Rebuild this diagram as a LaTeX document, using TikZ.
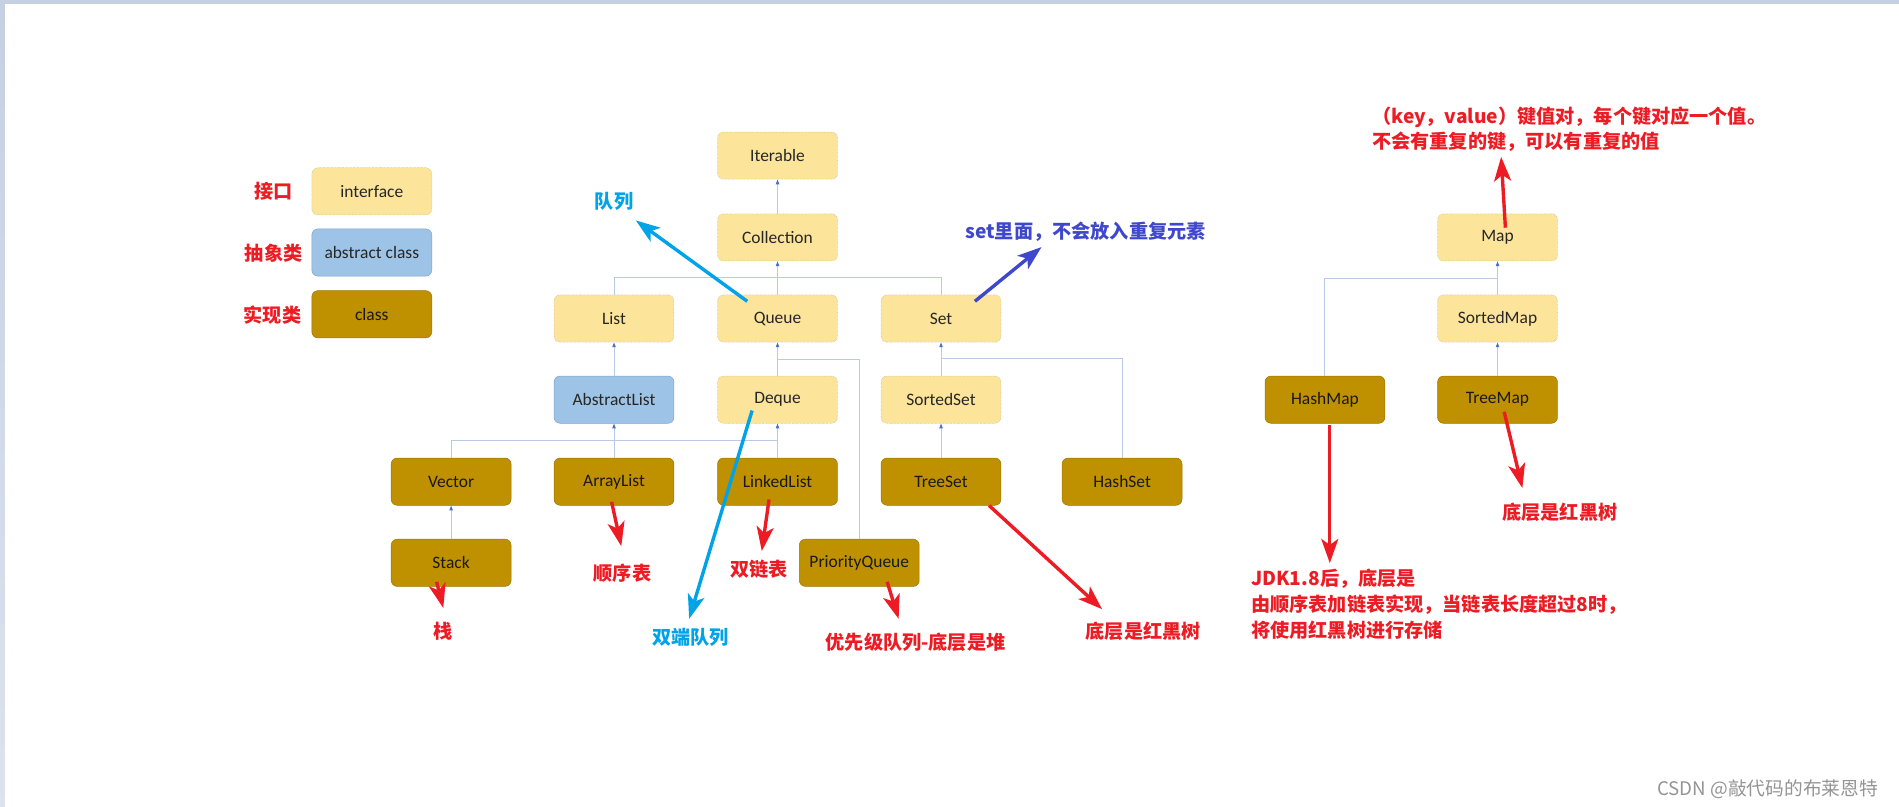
\documentclass[tikz,border=0pt]{standalone}
\usepackage{fontspec}
\setmainfont{Carlito}
\newfontfamily\cjk{Noto Sans CJK SC}
\usetikzlibrary{arrows.meta, calc}

\definecolor{ifacefill}{RGB}{253,228,155}
\definecolor{ifacedraw}{RGB}{196,186,150}
\definecolor{absfill}{RGB}{157,195,230}
\definecolor{absdraw}{RGB}{128,163,205}
\definecolor{clsfill}{RGB}{191,144,0}
\definecolor{clsdraw}{RGB}{158,118,0}
\definecolor{treeline}{RGB}{185,203,228}
\definecolor{treehead}{RGB}{68,114,196}
\definecolor{notered}{RGB}{237,28,36}
\definecolor{notecyan}{RGB}{0,162,232}
\definecolor{noteblue}{RGB}{63,72,204}
\definecolor{framec}{RGB}{197,208,226}

\begin{document}
\begin{tikzpicture}[x=0.5mm, y=-0.5mm,
    box/.style={rectangle, rounded corners=2.5mm, minimum width=49.5mm, minimum height=19.5mm, inner sep=0pt, font=\fontsize{20.5}{24}\selectfont, text=black!85},
    iface/.style={box, fill=ifacefill, draw=ifacedraw, densely dotted, line width=0.6pt},
    abstr/.style={box, fill=absfill, draw=absdraw, line width=0.6pt},
    impl/.style={box, fill=clsfill, draw=clsdraw, line width=0.6pt, text=black!90},
    tree/.style={draw=treeline, line width=1.1pt},
    isa/.style={-{Triangle[length=2mm, width=1.4mm, color=treehead]}},
    note/.style={font=\cjk\bfseries\fontsize{22.5}{30}\selectfont, inner sep=0pt},
    pointer/.style={line width=1.4mm, -{Stealth[length=10mm, width=7mm, inset=2.5mm]}}
]
    \useasboundingbox (0,0) rectangle (1568,666.3);

    % --- ramka ---
    \fill[framec] (0,0) rectangle (1568,3.3);
    \shade[top color=framec, bottom color=framec!60!white] (0,0) rectangle (4,666.3);

    % --- legenda ---
    \node[iface] (lgi) at (307,158) {interface};
    \node[abstr] (lga) at (307,208.5) {abstract class};
    \node[impl] (lgc) at (307,259.5) {class};
    \node[note, text=notered] (lgit) at (226,158) {接口};
    \node[note, text=notered] (lgat) at (226,209) {抽象类};
    \node[note, text=notered] (lgct) at (225,260) {实现类};

    % --- Collection ---
    \node[iface] (iter) at (642,128.5) {Iterable};
    \node[iface] (coll) at (642,196) {Collection};
    \node[iface] (list) at (507,263) {List};
    \node[iface] (queue) at (642,263) {Queue};
    \node[iface] (set) at (777,263) {Set};
    \node[abstr] (abst) at (507,330) {AbstractList};
    \node[iface] (deque) at (642,330) {Deque};
    \node[iface] (sset) at (777,330) {SortedSet};
    \node[impl] (vector) at (372.5,397.7) {Vector};
    \node[impl] (array) at (507,397.7) {ArrayList};
    \node[impl] (linked) at (642,397.7) {LinkedList};
    \node[impl] (treeset) at (777,397.7) {TreeSet};
    \node[impl] (hset) at (926.5,397.7) {HashSet};
    \node[impl] (stack) at (372.5,464.7) {Stack};
    \node[impl] (prio) at (709.5,464.7) {PriorityQueue};

    % --- Map ---
    \node[iface] (map) at (1236.5,196) {Map};
    \node[iface] (smap) at (1236.5,263) {SortedMap};
    \node[impl] (hmap) at (1094,330) {HashMap};
    \node[impl] (tmap) at (1236.5,330) {TreeMap};

    % --- dziedziczenie ---
    \draw[tree, isa] (coll.north) -- (iter.south);
    \draw[tree] (list.north) |- ($(coll.south)!.5!(queue.north)$) -| (set.north);
    \draw[tree, isa] (queue.north) -- (coll.south);
    \draw[tree, isa] (abst.north) -- (list.south);
    \draw[tree, isa] (deque.north) -- (queue.south);
    \draw[tree] (prio.north) |- ($(queue.south)+(0,14)$);
    \draw[tree, isa] (sset.north) -- (set.south);
    \draw[tree] (hset.north) |- ($(set.south)+(0,13)$);
    \draw[tree] (vector.north) |- ($(abst.south)!.5!(array.north)$) -| (linked.north);
    \draw[tree, isa] (array.north) -- (abst.south);
    \draw[tree, isa] (linked.north) -- (deque.south);
    \draw[tree, isa] (treeset.north) -- (sset.south);
    \draw[tree, isa] (stack.north) -- (vector.south);
    \draw[tree] (hmap.north) |- ($(map.south)+(0,14.5)$);
    \draw[tree, isa] (smap.north) -- (map.south);
    \draw[tree, isa] (tmap.north) -- (smap.south);

    % --- opisy ---
    \node[note, text=notecyan] (tqueue) at (507,166) {队列};
    \node[note, text=noteblue, anchor=west] (tsetnote) at (797,191) {set里面，不会放入重复元素};
    \node[note, text=notecyan] (tdeque) at (570,526) {双端队列};
    \node[note, text=notered] (tarray) at (514,473) {顺序表};
    \node[note, text=notered] (tlinked) at (627,470) {双链表};
    \node[note, text=notered] (tstack) at (366,521) {栈};
    \node[note, text=notered] (tprio) at (756,530) {优先级队列-底层是堆};
    \node[note, text=notered] (ttreeset) at (944,521) {底层是红黑树};
    \node[note, text=notered, anchor=west, align=left] (tmapn) at (1133,106.5)
        {（key，value）键值对，每个键对应一个值。\\不会有重复的键，可以有重复的值};
    \node[note, text=notered, anchor=north west, align=left] (thmap) at (1033,470)
        {JDK1.8后，底层是\\由顺序表加链表实现，当链表长度超过8时，\\将使用红黑树进行存储};
    \node[note, text=notered] (ttmap) at (1288,423) {底层是红黑树};
    \node[font=\cjk\fontsize{22}{26}\selectfont, text=black!42, inner sep=0pt] (wm) at (1459.5,652) {CSDN @敲代码的布莱恩特};

    % --- strzalki ---
    \coordinate (qtip) at (525,182);
    \coordinate (stip) at (860,204);
    \coordinate (dtip) at (569,511);
    \coordinate (atip) at (513,451);
    \coordinate (ltip) at (629,455);
    \coordinate (sttip) at (366,502);
    \coordinate (ptip) at (742,511);
    \coordinate (ttip) at (910,503);
    \coordinate (mtip) at (1239.5,129.5);
    \coordinate (htip) at (1098,465);
    \coordinate (tmtip) at (1257,403);

    \draw[pointer, notecyan] ([shift={(-25,5.5)}]queue.north) -- (qtip);
    \draw[pointer, noteblue] ([shift={(28,5.5)}]set.north) -- (stip);
    \draw[pointer, notecyan] ([shift={(-21,9)}]deque.center) -- (dtip);
    \draw[pointer, notered] ([shift={(-2,-3)}]array.south) -- (atip);
    \draw[pointer, notered] ([shift={(-7,-5)}]linked.south) -- (ltip);
    \draw[pointer, notered] ([shift={(-12,-4)}]stack.south) -- (sttip);
    \draw[pointer, notered] ([shift={(23,-4)}]prio.south) -- (ptip);
    \draw[pointer, notered] ([shift={(-10,0)}]treeset.south east) -- (ttip);
    \draw[pointer, notered] ([shift={(6.5,-8)}]map.center) -- (mtip);
    \draw[pointer, notered] ([shift={(4,1)}]hmap.south) -- (htip);
    \draw[pointer, notered] ([shift={(5.5,10)}]tmap.center) -- (tmtip);

\end{tikzpicture}
\end{document}
